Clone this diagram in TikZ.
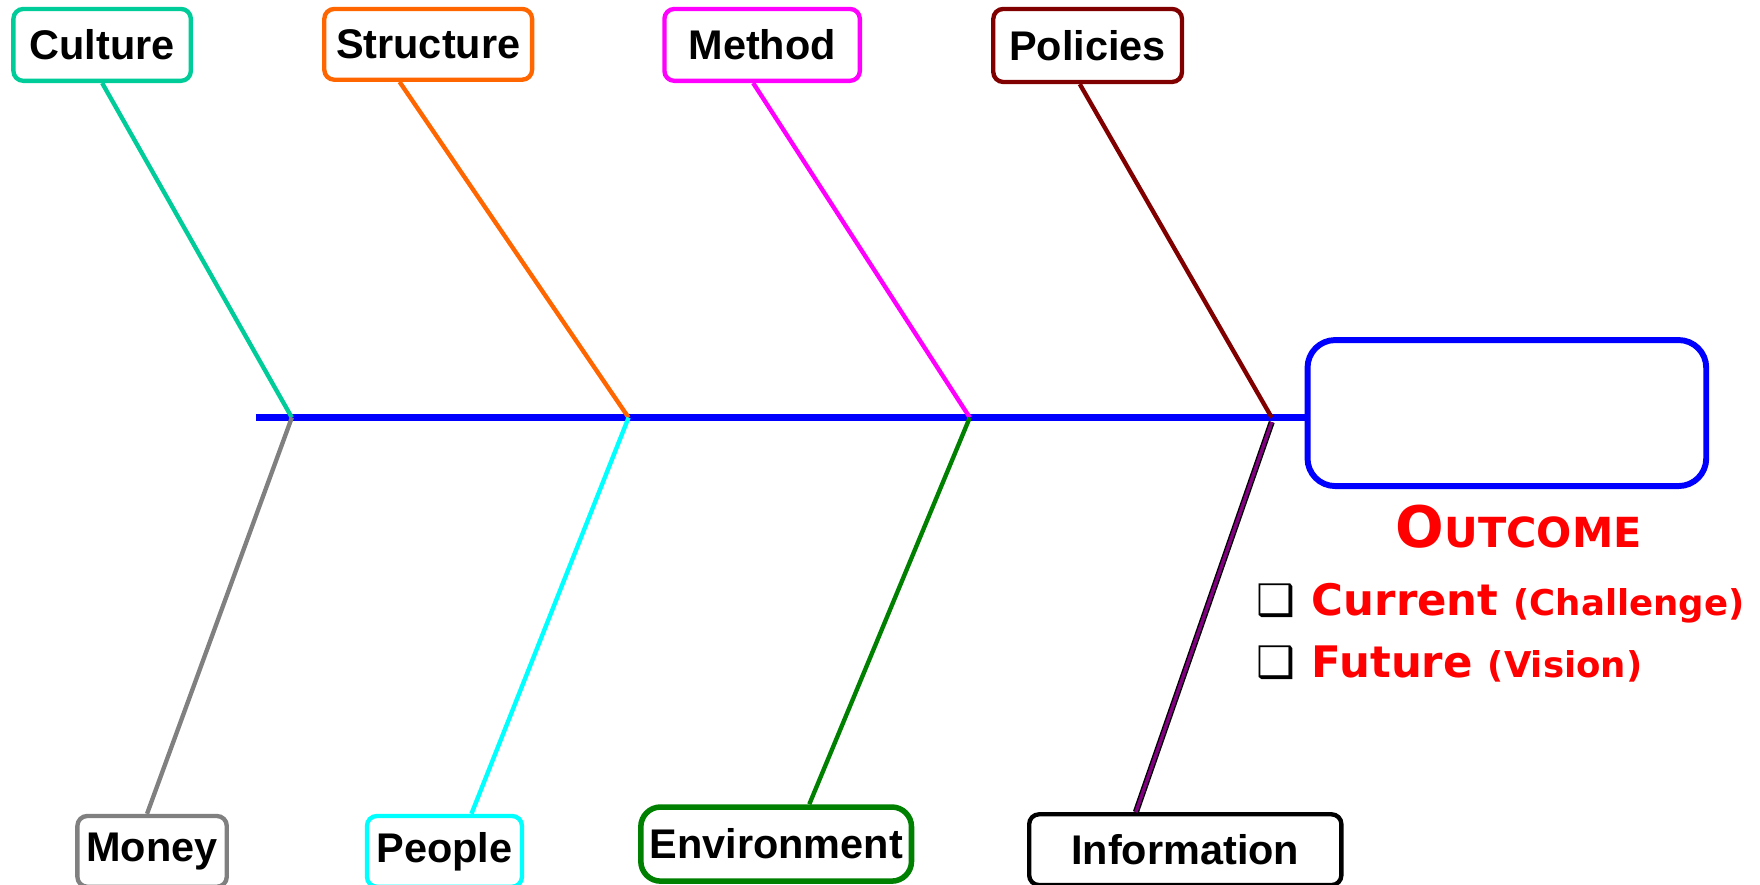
\documentclass[tikz,border=0pt]{standalone}
\usepackage{fontspec}
\setmainfont{Liberation Sans}
\newfontfamily\heavyfont{DejaVu Sans}
\usetikzlibrary{positioning}
\definecolor{culturec}{HTML}{00CC99}
\definecolor{structurec}{HTML}{FF6600}
\definecolor{methodc}{HTML}{FF00FF}
\definecolor{policiesc}{HTML}{800000}
\definecolor{moneyc}{HTML}{808080}
\definecolor{peoplec}{HTML}{00FFFF}
\definecolor{environmentc}{HTML}{008000}
\definecolor{informationc}{HTML}{800080}
\definecolor{outred}{HTML}{FF0000}

\begin{document}
\begin{tikzpicture}[
    x=0.01cm, y=-0.01cm,
    cause/.style={
        draw, rounded corners=2.5pt,
        line width=1.1pt,
        inner sep=0pt,
        font=\fontsize{10.5}{12}\selectfont\bfseries,
        minimum height=0.63cm
    },
    bone/.style={line width=1.1pt},
    spine/.style={draw=blue, line width=1.7pt},
    redtext/.style={text=outred, inner sep=0pt, font=\heavyfont\bfseries},
    tick/.style={inner sep=0pt, anchor=base east, font=\heavyfont\bfseries\fontsize{11}{12}\selectfont}
]
\useasboundingbox (0,0) rectangle (1568,788);

% effect box and the spine
\node[draw=blue, line width=1.5pt, rounded corners=7pt, minimum width=3.55cm,
      minimum height=1.3cm] (outcome) at (1342.5,368) {};
\coordinate (tail) at (228,372);
\coordinate (j1) at (260,372);
\coordinate (j2) at (560,372);
\coordinate (j3) at (864,372);
\coordinate (j4) at (1133,372);
\draw[spine] (tail) -- (tail -| outcome.west);

% top causes
\node[cause, draw=culturec, minimum width=1.58cm, minimum height=0.64cm] (culture) at (91,40) {Culture};
\node[cause, draw=structurec, minimum width=1.85cm] (structure) at (381.5,39.5) {Structure};
\node[cause, draw=methodc, minimum width=1.74cm, minimum height=0.64cm] (method) at (679,40) {Method};
\node[cause, draw=policiesc, minimum width=1.68cm, minimum height=0.65cm] (policies) at (969,40.5) {Policies};

% bottom causes
\node[cause, draw=moneyc, minimum width=1.33cm] (money) at (135.5,758.5) {Money};
\node[cause, draw=peoplec, minimum width=1.38cm] (people) at (396,758.5) {People};
\node[cause, draw=environmentc, line width=1.4pt, rounded corners=5pt, minimum width=2.41cm,
      minimum height=0.66cm] (environment) at (691.5,752) {Environment};
\node[cause, draw=black, minimum width=2.78cm] (information) at (1056,757) {Information};

\draw[bone, culturec] (culture.south) -- (j1);
\draw[bone, structurec] ([xshift=-0.255cm]structure.south) -- (j2);
\draw[bone, methodc] ([xshift=-0.08cm]method.south) -- (j3);
\draw[bone, policiesc] ([xshift=-0.07cm]policies.south) -- (j4);
\draw[bone, moneyc] (j1) -- ([xshift=-0.045cm]money.north);
\draw[bone, peoplec] (j2) -- ([xshift=0.24cm]people.north);
\draw[bone, environmentc] (j3) -- ([xshift=0.295cm]environment.north);
\draw[black, line width=0.35pt, double=informationc, double distance=0.85pt]
    ([yshift=-0.04cm]j4) -- ([xshift=-0.44cm]information.north);

% outcome legend
\node[redtext, anchor=base] (outtitle) at (1353,488)
    {\fontsize{14.5}{16}\selectfont O\fontsize{10.5}{12}\selectfont UTCOME};
\node[redtext, anchor=base west] (current) at (1168,548)
    {\fontsize{11}{13}\selectfont Current \fontsize{9}{11}\selectfont (Challenge)};
\node[redtext, anchor=base west] (future) at (1168,604)
    {\fontsize{11}{13}\selectfont Future \fontsize{9}{11}\selectfont (Vision)};
\node[tick] (chk1) at (1155,548) {❑};
\node[tick] (chk2) at (1155,604) {❑};
\end{tikzpicture}
\end{document}
